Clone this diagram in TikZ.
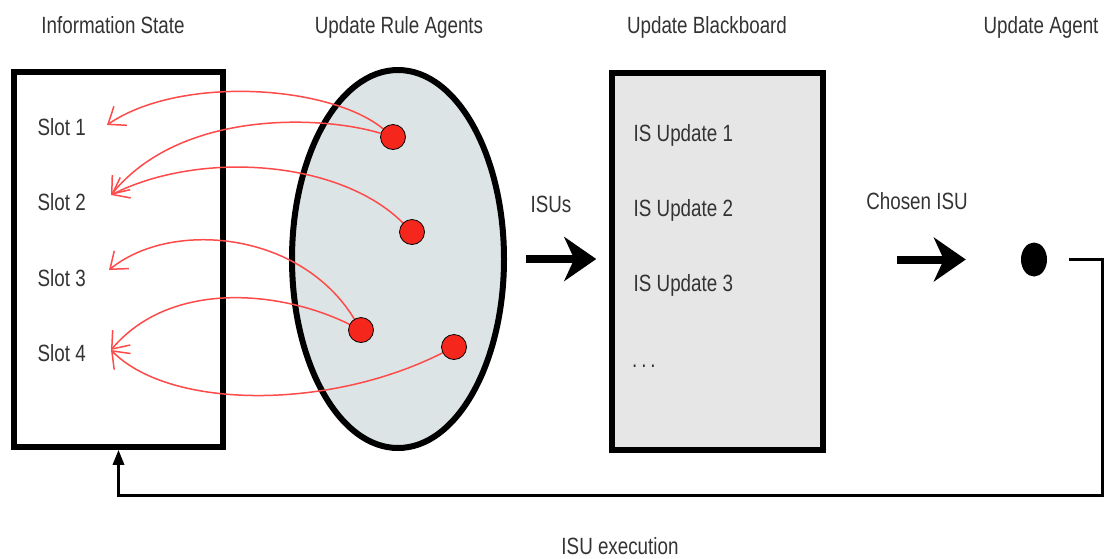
\documentclass[tikz,border=0pt]{standalone}
\usepackage{fontspec}
\newfontfamily\lab{Liberation Sans}[FakeStretch=0.8]
\usetikzlibrary{arrows.meta,shapes.geometric}
\definecolor{txt}{HTML}{333333}
\definecolor{ellfill}{HTML}{DCE4E5}
\definecolor{bbfill}{HTML}{E6E6E6}
\definecolor{dotred}{HTML}{F5261C}
\definecolor{curvered}{HTML}{FF4A4A}
\pgfdeclarelayer{back}
\pgfdeclarelayer{mid}
\pgfsetlayers{back,mid,main}
\begin{document}
\begin{tikzpicture}[x=1pt,y=1pt,
  lbl/.style={font=\lab\fontsize{23.5}{26}\selectfont, text=txt, inner sep=0pt},
  box/.style={draw=black, line width=5.5pt, rectangle, inner sep=0pt},
  agent/.style={circle, draw=black, line width=0.8pt, fill=dotred, minimum size=25pt, inner sep=0pt},
  rc/.style={draw=curvered, line width=1.5pt, -{Straight Barb[length=15pt,width=23pt]}},
  bigarr/.style={line width=8pt, -{Stealth[length=32pt,width=44pt,inset=10pt]}},
  fb/.style={line width=3pt, -{Triangle[length=15pt,width=11pt]}}
]
\useasboundingbox (0,0) rectangle (1107,-558);

% headers
\node[lbl, anchor=base] (h1) at (113,-33) {Information State};
\node[lbl, anchor=base] (h2) at (399,-33) {Update Rule Agents};
\node[lbl, anchor=base] (h3) at (707,-33) {Update Blackboard};
\node[lbl, anchor=base] (h4) at (1041,-33) {Update Agent};

% main shapes
\begin{pgfonlayer}{back}
\node[box, minimum width=209pt, minimum height=375pt] (is) at (118.5,-259.5) {};
\node[ellipse, draw=black, line width=6pt, fill=ellfill, minimum width=212pt, minimum height=378pt, inner sep=0pt] (ell) at (398,-259) {};
\node[box, fill=bbfill, minimum width=211pt, minimum height=377pt] (bb) at (717.5,-261.5) {};
\end{pgfonlayer}

% slots
\node[lbl, anchor=base west] (s1) at (37.5,-135) {Slot 1};
\node[lbl, anchor=base west] (s2) at (37.5,-210) {Slot 2};
\node[lbl, anchor=base west] (s3) at (37.5,-286) {Slot 3};
\node[lbl, anchor=base west] (s4) at (37.5,-361) {Slot 4};
\coordinate (t1) at (107,-125);
\coordinate (t2) at (111,-195);
\coordinate (t3) at (109,-270);
\coordinate (t4) at (111,-350);

% blackboard contents
\node[lbl, anchor=base west] (u1) at (633.5,-141) {IS Update 1};
\node[lbl, anchor=base west] (u2) at (633.5,-216) {IS Update 2};
\node[lbl, anchor=base west] (u3) at (633.5,-291) {IS Update 3};
\node[lbl, anchor=base west] (u4) at (632,-367) {.\,.\,.};

% agents
\node[agent] (d1) at (393,-137) {};
\node[agent] (d2) at (412,-232) {};
\node[agent] (d3) at (361,-330) {};
\node[agent] (d4) at (454,-347) {};

% red curves
\begin{pgfonlayer}{mid}
\draw[rc] (d1) .. controls (330,-85) and (180,-75) .. (t1);
\draw[rc] (d1) .. controls (320,-115) and (180,-110) .. (t2);
\draw[rc] (d2) .. controls (340,-160) and (200,-150) .. (t2);
\draw[rc] (d3) .. controls (300,-230) and (170,-220) .. (t3);
\draw[rc] (d3) .. controls (280,-290) and (170,-280) .. (t4);
\draw[rc] (d4) .. controls (330,-410) and (170,-410) .. (t4);
\end{pgfonlayer}

% update agent
\node[ellipse, fill=black, minimum width=26pt, minimum height=34pt, inner sep=0pt] (ua) at (1034,-259.5) {};

% labels on arrows
\node[lbl, anchor=base] (isus) at (551,-212) {ISUs};
\node[lbl, anchor=base] (chosen) at (917,-209) {Chosen ISU};
\node[lbl, anchor=base] (exec) at (620,-554) {ISU execution};

% big arrows
\draw[bigarr, shorten <=19pt, shorten >=13pt] (ell.east) -- (ell.east -| bb.west);
\draw[bigarr, shorten <=71pt, shorten >=55pt] (bb.east |- ua.west) -- (ua.west);

% feedback
\coordinate (corner) at (1102,-495);
\draw[fb] ([xshift=22pt]ua.east) -| (corner) -| (is.south);
\end{tikzpicture}
\end{document}
